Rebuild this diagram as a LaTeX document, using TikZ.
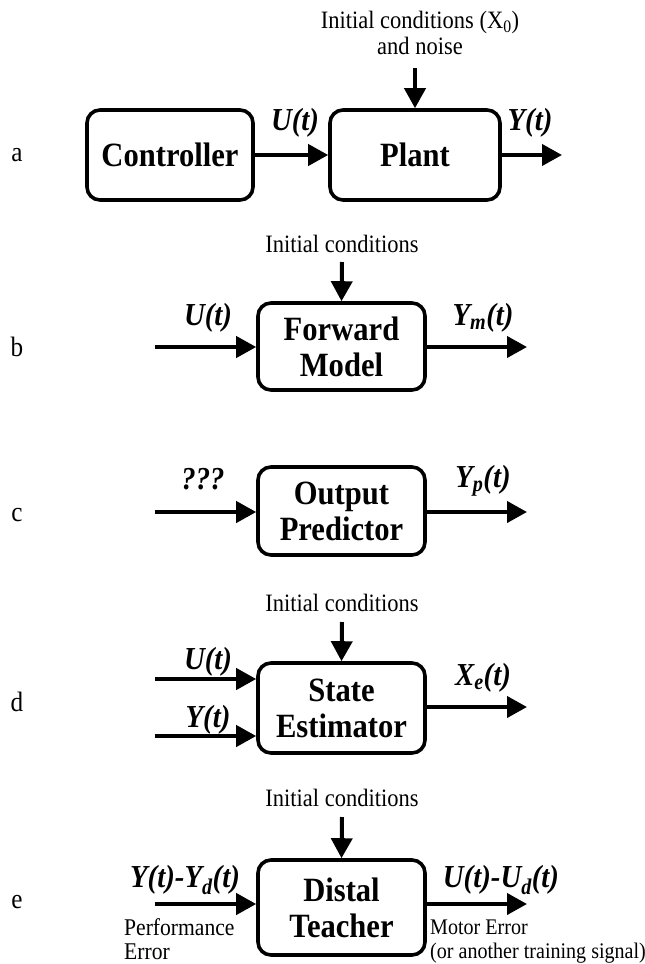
\documentclass[tikz,border=0pt]{standalone}
\usepackage{fontspec}
\setmainfont{Liberation Serif}[FakeStretch=0.9]
\usetikzlibrary{arrows.meta}
\begin{document}
\begin{tikzpicture}[x=1pt,y=-1pt,
  blk/.style={draw,line width=3.6pt,rounded corners=13pt,minimum width=167pt,inner sep=0pt,align=center,
    font=\fontsize{34}{36}\selectfont\bfseries},
  sig/.style={line width=4pt,-{Triangle[length=20pt,width=21pt]}},
  slab/.style={inner sep=0pt,font=\fontsize{32}{34}\selectfont\bfseries\itshape},
  note/.style={inner sep=0pt,align=center,font=\fontsize{25}{26}\selectfont},
  lnote/.style={inner sep=0pt,align=left,anchor=north west,font=\fontsize{24}{24.5}\selectfont},
  plab/.style={inner sep=0pt,font=\fontsize{28}{30}\selectfont}]
\useasboundingbox (0,0) rectangle (645,964);
% ---------- a
\node[plab] (la) at (17,155) {a};
\node[blk,minimum width=166pt,minimum height=90pt] (ctrl) at (170,155) {Controller};
\node[blk,minimum width=170pt,minimum height=90pt] (plant) at (415,155) {Plant};
\node[note] (ica) at (420,33) {Initial conditions (X\textsubscript{0})\\and noise};
\coordinate (ica0) at (415,68);
\coordinate (aout) at (562,155);
\draw[sig] (ica0) -- (plant.north);
\draw[sig] (ctrl) -- (plant);
\draw[sig] (plant) -- (aout);
\node[slab] (ua) at (295,123) {U(t)};
\node[slab] (ya) at (530,123) {Y(t)};
% ---------- b
\node[plab] (lb) at (17,347) {b};
\node[blk,minimum height=87pt] (fm) at (341.5,346.5) {Forward\\Model};
\node[note] (icb) at (342,244) {Initial conditions};
\coordinate (icb0) at (342,262);
\coordinate (bin) at (155,347);
\coordinate (bout) at (527,347);
\draw[sig] (icb0) -- (fm.north);
\draw[sig] (bin) -- (fm.west |- bin);
\draw[sig] (fm.east |- bout) -- (bout);
\node[slab] (ub) at (208,318) {U(t)};
\node[slab] (yb) at (483,318) {Y\textsubscript{m}(t)};
% ---------- c
\node[plab] (lc) at (17,515) {c};
\node[blk,minimum height=88pt] (op) at (341.5,511) {Output\\Predictor};
\coordinate (cin) at (155,512);
\coordinate (cout) at (527,512);
\draw[sig] (cin) -- (op.west |- cin);
\draw[sig] (op.east |- cout) -- (cout);
\node[slab] (qc) at (203,479) {???};
\node[slab] (yc) at (483,481) {Y\textsubscript{p}(t)};
% ---------- d
\node[plab] (ld) at (17,702) {d};
\node[blk,minimum height=90pt] (se) at (341.5,708) {State\\Estimator};
\node[note] (icd) at (342,603) {Initial conditions};
\coordinate (icd0) at (342,622);
\coordinate (din1) at (155,679);
\coordinate (din2) at (155,736);
\coordinate (dout) at (527,707);
\draw[sig] (icd0) -- (se.north);
\draw[sig] (din1) -- (se.west |- din1);
\draw[sig] (din2) -- (se.west |- din2);
\draw[sig] (se.east |- dout) -- (dout);
\node[slab] (ud) at (208,662) {U(t)};
\node[slab] (yd) at (208,720) {Y(t)};
\node[slab] (xd) at (483,678) {X\textsubscript{e}(t)};
% ---------- e
\node[plab] (le) at (17,902) {e};
\node[blk,minimum height=95pt] (dt) at (341.5,907.5) {Distal\\Teacher};
\node[note] (ice) at (342,798) {Initial conditions};
\coordinate (ice0) at (342,817);
\coordinate (ein) at (155,904);
\coordinate (eout) at (527,904);
\draw[sig] (ice0) -- (dt.north);
\draw[sig] (ein) -- (dt.west |- ein);
\draw[sig] (dt.east |- eout) -- (eout);
\node[slab] (ye) at (185,880) {Y(t)-Y\textsubscript{d}(t)};
\node[slab] (ue) at (501,880) {U(t)-U\textsubscript{d}(t)};
\node[lnote] (pe) at (124,918) {Performance\\Error};
\node[lnote,font=\fontsize{22.3}{23.5}\selectfont] (me) at (430,920) {Motor Error\\(or another training signal)};
\end{tikzpicture}
\end{document}
